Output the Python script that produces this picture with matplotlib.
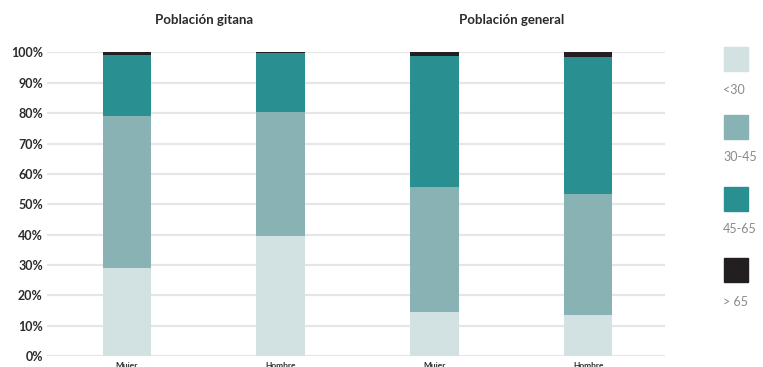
import matplotlib.pyplot as plt
from matplotlib.patches import Rectangle
import numpy as np

# age groups share of population (%), per bar
groups = ["Mujer", "Hombre", "Mujer", "Hombre"]
panels = ["Población gitana", "Población general"]
age_labels = ["<30", "30-45", "45-65", "> 65"]
under_30 = [29.0, 39.5, 14.5, 13.5]
age_30_45 = [50.0, 40.8, 41.1, 39.8]
age_45_65 = [20.3, 19.4, 43.4, 45.1]
over_65 = [0.7, 0.3, 1.0, 1.6]
yticks = [0, 10, 20, 30, 40, 50, 60, 70, 80, 90, 100]

colors = ["#d2e1e1", "#88b2b3", "#2a8f91", "#231f20"]
text_dark = "#2b2b2b"

plt.rcParams["font.family"] = ["Lato", "DejaVu Sans"]

fig = plt.figure(figsize=(7.63, 3.67), dpi=100)
ax = fig.add_axes([0.0616, 0.030, 0.81, 0.827])

x = np.arange(len(groups))
bottom = np.zeros(len(groups))
for vals, c in zip([under_30, age_30_45, age_45_65, over_65], colors):
    ax.bar(x, vals, bottom=bottom, width=0.315, color=c, zorder=3)
    bottom += np.array(vals)

ax.set_xlim(-0.52, 3.5)
ax.set_ylim(0, 100)
ax.set_yticks(yticks)
ax.set_yticklabels([f"{t}%" for t in yticks], fontsize=9, fontweight="bold", color=text_dark)
ax.set_xticks(x)
ax.set_xticklabels(groups, fontsize=6, fontweight="bold", color=text_dark)
ax.tick_params(axis="both", length=0)
ax.tick_params(axis="y", pad=3)
ax.tick_params(axis="x", pad=4)
ax.grid(axis="y", color="#e6e6e6", linewidth=1.6, zorder=0)
ax.set_axisbelow(True)
for s in ax.spines.values():
    s.set_visible(False)

# panel titles
for i, title in enumerate(panels):
    xc = (x[2 * i] + x[2 * i + 1]) / 2
    ax.text(xc, 1.108, title, transform=ax.get_xaxis_transform(), ha="center",
            va="center", fontsize=9.5, fontweight="bold", color=text_dark)

# legend drawn as stacked squares with labels underneath
W, H = 763, 367
sq_tops = [47, 115, 187, 258]
lab_y = [90, 157, 229, 302]
for c, lab, top, ly in zip(colors, age_labels, sq_tops, lab_y):
    fig.patches.append(Rectangle((724 / W, 1 - (top + 24) / H), 24 / W, 24 / H,
                                 transform=fig.transFigure, color=c))
    fig.text(723 / W, 1 - ly / H, lab, ha="left", va="center", fontsize=9, color="#8a8a8a")

fig.savefig("out.png", dpi=100)
